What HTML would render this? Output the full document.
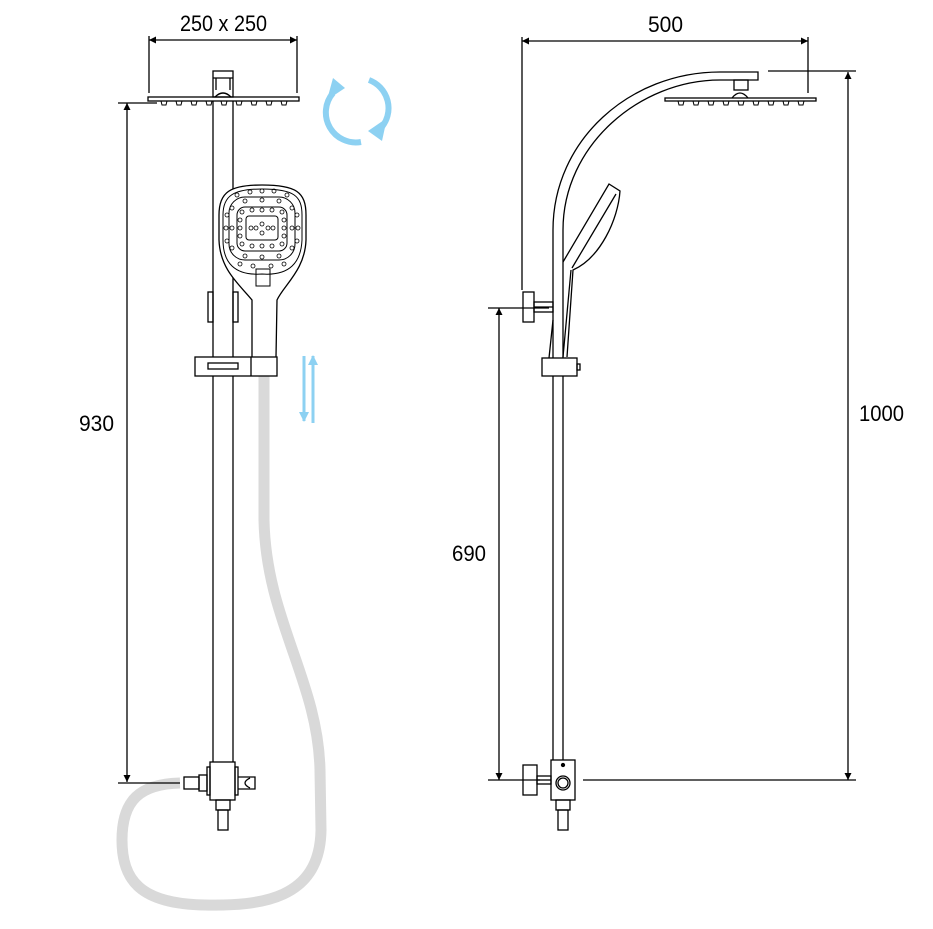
<!DOCTYPE html>
<html><head><meta charset="utf-8"><style>
html,body{margin:0;padding:0;background:#fff;}
svg{display:block;}
text{font-family:"Liberation Sans Narrow","Liberation Sans",sans-serif;fill:#000;}
</style></head><body>
<svg width="933" height="929" viewBox="0 0 933 929" xmlns="http://www.w3.org/2000/svg">
<defs>
<marker id="ar" viewBox="0 0 10 10" refX="10" refY="5" markerWidth="20" markerHeight="7" markerUnits="userSpaceOnUse" orient="auto-start-reverse"><path d="M0,0 L10,5 L0,10z" fill="#000"/></marker>
<marker id="ab" viewBox="0 0 10 10" refX="9" refY="5" markerWidth="16" markerHeight="10" markerUnits="userSpaceOnUse" orient="auto"><path d="M0,0 L10,5 L0,10z" fill="#8dd1f2"/></marker>
</defs>
<g fill="none" stroke="#000" stroke-width="1.3">
<path d="M264,376 L264,520 C266,620 318,680 320,770 L321,830 C320,900 260,906 205,905 C140,904 122,880 122,840 C122,800 140,784 180,783" stroke="#d9d9d9" stroke-width="11"/>
<line x1="149" y1="40" x2="297" y2="40" marker-start="url(#ar)" marker-end="url(#ar)"/>
<line x1="149" y1="36" x2="149" y2="93"/><line x1="297" y1="36" x2="297" y2="93"/>
<line x1="127" y1="103" x2="127" y2="782" marker-start="url(#ar)" marker-end="url(#ar)"/>
<line x1="118" y1="103" x2="157" y2="103"/><line x1="118" y1="783" x2="180" y2="783"/>
<rect x="148" y="97" width="151" height="4"/>
<g stroke-width="1">
<path d="M161,101 l1,4 h4 l1,-4 M176,101 l1,4 h4 l1,-4 M191,101 l1,4 h4 l1,-4 M206,101 l1,4 h4 l1,-4 M221,101 l1,4 h4 l1,-4 M236,101 l1,4 h4 l1,-4 M251,101 l1,4 h4 l1,-4 M266,101 l1,4 h4 l1,-4 M281,101 l1,4 h4 l1,-4"/>
</g>
<rect x="213" y="71" width="20" height="26"/><line x1="213" y1="78" x2="233" y2="78"/>
<path d="M215,97 q8,-8 16,0"/><line x1="216" y1="78" x2="216" y2="90"/><line x1="230" y1="78" x2="230" y2="90"/>
<line x1="213" y1="101" x2="213" y2="762"/><line x1="233" y1="101" x2="233" y2="762"/>
<rect x="208" y="292" width="5" height="30"/><rect x="233" y="292" width="5" height="30"/>
<path d="M252,357 L252,300 C240,285 220,270 219,240 L219,215 C219,192 230,185 262,185 C296,185 306,192 306,215 L306,240 C305,270 284,285 277,300 L276,357" fill="#fff"/>
<path d="M223,240 L223,215 C223,196 233,189 262,189 C294,189 302,196 302,215 L302,240 C301,262 290,276 262,274 C234,276 223,262 223,240z" stroke-width="1"/>
<rect x="229" y="197" width="66" height="63" rx="16" stroke-width="1"/>
<rect x="237" y="207" width="50" height="44" rx="8" stroke-width="1"/>
<rect x="246" y="216" width="32" height="24" rx="3" stroke-width="1"/>
<rect x="256" y="269" width="14" height="17" stroke-width="1"/>
<g stroke-width="0.8">
<circle cx="262" cy="224" r="2"/><circle cx="262" cy="233" r="2"/><circle cx="256" cy="228" r="2"/><circle cx="268" cy="228" r="2"/><circle cx="251" cy="228" r="2"/><circle cx="273" cy="228" r="2"/>
<circle cx="242" cy="212" r="2"/><circle cx="252" cy="210" r="2"/><circle cx="262" cy="210" r="2"/><circle cx="272" cy="210" r="2"/><circle cx="282" cy="212" r="2"/>
<circle cx="242" cy="244" r="2"/><circle cx="252" cy="246" r="2"/><circle cx="262" cy="246" r="2"/><circle cx="272" cy="246" r="2"/><circle cx="282" cy="244" r="2"/>
<circle cx="240" cy="228" r="2"/><circle cx="284" cy="228" r="2"/><circle cx="240" cy="220" r="2"/><circle cx="284" cy="220" r="2"/><circle cx="240" cy="236" r="2"/><circle cx="284" cy="236" r="2"/>
<circle cx="232" cy="208" r="2"/><circle cx="232" cy="228" r="2"/><circle cx="232" cy="248" r="2"/><circle cx="292" cy="208" r="2"/><circle cx="292" cy="228" r="2"/><circle cx="292" cy="248" r="2"/>
<circle cx="245" cy="201" r="2"/><circle cx="262" cy="200" r="2"/><circle cx="279" cy="201" r="2"/><circle cx="245" cy="256" r="2"/><circle cx="262" cy="257" r="2"/><circle cx="279" cy="256" r="2"/>
<circle cx="226" cy="228" r="2"/><circle cx="298" cy="228" r="2"/><circle cx="250" cy="192" r="2"/><circle cx="262" cy="191" r="2"/><circle cx="274" cy="191" r="2"/><circle cx="237" cy="195" r="2"/><circle cx="287" cy="195" r="2"/>
<circle cx="227" cy="215" r="2"/><circle cx="297" cy="215" r="2"/><circle cx="227" cy="241" r="2"/><circle cx="297" cy="241" r="2"/><circle cx="240" cy="264" r="2"/><circle cx="284" cy="264" r="2"/><circle cx="253" cy="266" r="2"/><circle cx="271" cy="266" r="2"/>
</g>
<rect x="195" y="357" width="82" height="19" fill="#fff"/><line x1="251" y1="357" x2="251" y2="376"/>
<rect x="208" y="363" width="30" height="6"/>
<rect x="210" y="762" width="25" height="38" fill="#fff"/>
<rect x="207" y="767" width="3" height="28"/><rect x="235" y="767" width="3" height="28"/>
<rect x="184" y="777" width="15" height="12"/><rect x="199" y="775" width="8" height="16"/>
<path d="M238,777 h17 v12 h-17"/><path d="M250,778 q-10,5 0,10"/>
<rect x="216" y="800" width="14" height="10"/><rect x="218" y="810" width="10" height="20"/>
<line x1="522" y1="41" x2="808" y2="41" marker-start="url(#ar)" marker-end="url(#ar)"/>
<line x1="522" y1="37" x2="522" y2="290"/><line x1="808" y1="37" x2="808" y2="93"/>
<line x1="499" y1="308" x2="499" y2="780" marker-start="url(#ar)" marker-end="url(#ar)"/>
<line x1="488" y1="308" x2="549" y2="308"/><line x1="488" y1="780" x2="540" y2="780"/>
<line x1="848" y1="72" x2="848" y2="780" marker-start="url(#ar)" marker-end="url(#ar)"/>
<line x1="768" y1="71" x2="856" y2="71"/><line x1="583" y1="780" x2="856" y2="780"/>
<path d="M553,760 L553,230 C553,140 630,72 720,72 L758,72 L758,80 L720,80 C640,80 563,145 563,230 L563,760" fill="#fff"/>
<rect x="734" y="80" width="14" height="10"/><path d="M732,98 q8,-10 16,0"/>
<rect x="665" y="98" width="151" height="3"/>
<g stroke-width="1"><path d="M678,101 l1,4 h4 l1,-4 M693,101 l1,4 h4 l1,-4 M708,101 l1,4 h4 l1,-4 M723,101 l1,4 h4 l1,-4 M738,101 l1,4 h4 l1,-4 M753,101 l1,4 h4 l1,-4 M768,101 l1,4 h4 l1,-4 M783,101 l1,4 h4 l1,-4 M798,101 l1,4 h4 l1,-4"/></g>
<path d="M563,262 L609,184 L620,191 C618,220 600,258 573,270 L567,357"/>
<line x1="616" y1="194" x2="572" y2="268"/><line x1="571" y1="270" x2="563" y2="357"/>
<line x1="553" y1="320" x2="549" y2="358"/>
<rect x="523" y="292" width="11" height="30"/><rect x="534" y="302" width="19" height="10"/><line x1="534" y1="307" x2="553" y2="307"/>
<rect x="542" y="358" width="35" height="18" fill="#fff"/><rect x="577" y="364" width="3" height="6"/>
<rect x="551" y="760" width="24" height="40" fill="#fff"/><circle cx="563" cy="765" r="1.5" fill="#000"/>
<circle cx="563" cy="783" r="7"/><circle cx="563" cy="783" r="5"/>
<rect x="523" y="765" width="14" height="30"/><rect x="537" y="776" width="14" height="8"/><line x1="537" y1="780" x2="551" y2="780"/>
<rect x="556" y="800" width="14" height="10"/><rect x="558" y="810" width="10" height="20"/>
</g>
<g fill="none" stroke="#8dd1f2" stroke-width="6">
<path d="M369,80 A30,30 0 0 1 381,128"/>
<path d="M361,142 A30,30 0 0 1 333,93"/>
</g>
<path d="M387,118 L382,141 L368,131z" fill="#8dd1f2"/>
<path d="M327,100 L333,78 L345,88z" fill="#8dd1f2"/>
<line x1="304" y1="356" x2="304" y2="421" stroke="#8dd1f2" stroke-width="3" marker-end="url(#ab)"/>
<line x1="313" y1="423" x2="313" y2="356" stroke="#8dd1f2" stroke-width="3" marker-end="url(#ab)"/>
<text x="180" y="31" font-size="22" textLength="87" lengthAdjust="spacingAndGlyphs">250 x 250</text>
<text x="79" y="431" font-size="22" textLength="35" lengthAdjust="spacingAndGlyphs">930</text>
<text x="648" y="32" font-size="22" textLength="35" lengthAdjust="spacingAndGlyphs">500</text>
<text x="452" y="561" font-size="22" textLength="34" lengthAdjust="spacingAndGlyphs">690</text>
<text x="859" y="421" font-size="22" textLength="45" lengthAdjust="spacingAndGlyphs">1000</text>
</svg>
</body></html>
